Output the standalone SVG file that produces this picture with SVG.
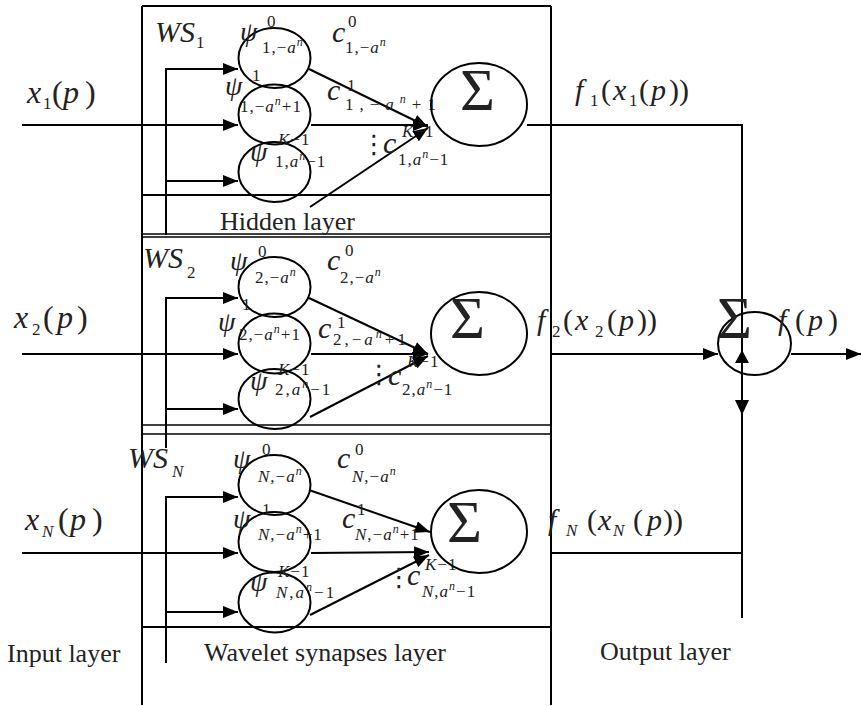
<svg xmlns="http://www.w3.org/2000/svg" width="861" height="706" viewBox="0 0 861 706">
<defs>
<style>
.ln{stroke:#000;stroke-width:2;fill:none}
.ln2{stroke:#000;stroke-width:1.5;fill:none}
.ar{stroke:#000;stroke-width:2;fill:none;marker-end:url(#ah)}
.nd{stroke:#000;stroke-width:2;fill:none}
.hd{fill:#000;stroke:none}
text{font-family:"Liberation Serif","Times New Roman",serif;fill:#222}
.m{font-style:italic;font-size:30px}
.p{font-style:italic;font-size:28px}
.r{font-size:30px}
.s{font-size:17px;letter-spacing:1px}
.i{font-style:italic}
.n{font-style:italic;font-size:12px}
.sig{font-size:60px}
.lbl{font-size:26px}
.dt{font-family:"DejaVu Sans",sans-serif;font-size:26px}
</style>
<marker id="ah" viewBox="0 0 15 12" refX="15" refY="6" markerWidth="15" markerHeight="12" markerUnits="userSpaceOnUse" orient="auto"><path d="M0,0L15,6L0,12z" fill="#000"/></marker>
</defs>
<rect width="861" height="706" fill="#fff"/>

<g id="frames">
<line class="ln" x1="142" y1="6" x2="142" y2="705"/>
<line class="ln" x1="551" y1="6" x2="551" y2="705"/>
<line class="ln" x1="142" y1="6" x2="551" y2="6"/>
<line class="ln" x1="142" y1="195" x2="551" y2="195"/>
<line class="ln2" x1="142" y1="234" x2="551" y2="234"/>
<line class="ln2" x1="142" y1="237" x2="551" y2="237"/>
<line class="ln2" x1="142" y1="425" x2="551" y2="425"/>
<line class="ln2" x1="142" y1="434" x2="551" y2="434"/>
<line class="ln" x1="142" y1="627" x2="551" y2="627"/>
</g>

<g id="connectors">
<!-- block 1 -->
<line class="ln" x1="166" y1="68" x2="166" y2="235"/>
<line class="ar" x1="165" y1="69" x2="238" y2="69"/>
<line class="ar" x1="22" y1="125" x2="238" y2="125"/>
<line class="ar" x1="165" y1="181" x2="238" y2="181"/>
<line class="ar" x1="309" y1="69" x2="428" y2="127"/>
<line class="ar" x1="311" y1="125" x2="428" y2="125"/>
<line class="ar" x1="310" y1="207" x2="428" y2="128"/>
<!-- block 2 -->
<line class="ln" x1="166" y1="297" x2="166" y2="448"/>
<line class="ar" x1="165" y1="298" x2="238" y2="298"/>
<line class="ar" x1="22" y1="354" x2="238" y2="354"/>
<line class="ar" x1="165" y1="409" x2="238" y2="409"/>
<line class="ar" x1="309" y1="298" x2="428" y2="354"/>
<line class="ar" x1="311" y1="354" x2="428" y2="354"/>
<line class="ar" x1="310" y1="417" x2="428" y2="356"/>
<!-- block N -->
<line class="ln" x1="166" y1="496" x2="166" y2="663"/>
<line class="ar" x1="165" y1="497" x2="238" y2="497"/>
<line class="ar" x1="22" y1="553" x2="238" y2="553"/>
<line class="ar" x1="165" y1="612" x2="238" y2="612"/>
<line class="ar" x1="309" y1="490" x2="430" y2="532"/>
<line class="ar" x1="311" y1="553" x2="429" y2="552"/>
<line class="ar" x1="310" y1="615" x2="429" y2="555"/>
<!-- output layer -->
<line class="ln" x1="527" y1="125" x2="743" y2="125"/>
<line class="ln" x1="742" y1="124" x2="742" y2="618"/>
<line class="ln" x1="551" y1="553" x2="743" y2="553"/>
<line class="ar" x1="551" y1="354" x2="718" y2="354"/>
<line class="ar" x1="791" y1="354" x2="861" y2="354"/>
<polygon class="hd" points="742,350 735,363 749,363"/>
<polygon class="hd" points="742,415 735,400 749,400"/>
</g>

<g id="inputs">
<text class="m" style="font-size:32px" x="27" y="103">x</text><text class="s" x="43" y="109">1</text><text class="r" style="font-size:32px" x="52" y="103">(</text><text class="m" style="font-size:32px" x="63" y="103">p</text><text class="r" style="font-size:32px" x="85" y="103">)</text>
<text class="m" style="font-size:32px" x="14" y="328">x</text><text class="s" x="32" y="335">2</text><text class="r" style="font-size:32px" x="43" y="328">(</text><text class="m" style="font-size:32px" x="57" y="328">p</text><text class="r" style="font-size:32px" x="77" y="328">)</text>
<text class="m" style="font-size:32px" x="25" y="530">x</text><text class="s i" x="42" y="537">N</text><text class="r" style="font-size:32px" x="58" y="530">(</text><text class="m" style="font-size:32px" x="70" y="530">p</text><text class="r" style="font-size:32px" x="92" y="530">)</text>
</g>

<!-- Block 1 -->
<g id="ws1">
<text class="m" x="155" y="42">WS</text><text class="s" x="196" y="48">1</text>
</g>
<g id="psi-1-0">
<ellipse class="nd" cx="274.5" cy="58" rx="36" ry="30"/>
<text class="p" x="240" y="41">ψ</text><text class="s" x="267" y="27">0</text>
<text class="s" x="262" y="53">1,−<tspan class="i">a</tspan><tspan class="n" dy="-7">n</tspan></text>
</g>
<g id="psi-1-1">
<ellipse class="nd" cx="274.5" cy="114.5" rx="36" ry="30"/>
<text class="p" x="225" y="95">ψ</text><text class="s" x="252" y="81">1</text>
<text class="s" x="240" y="112">1,−<tspan class="i">a</tspan><tspan class="n" dy="-7">n</tspan><tspan dy="7">+1</tspan></text>
</g>
<g id="psi-1-K">
<ellipse class="nd" cx="274.5" cy="172" rx="36" ry="30"/>
<text class="p" x="250" y="161">ψ</text><text class="s" x="278" y="145"><tspan class="i">K</tspan>−1</text>
<text class="s" x="275" y="167">1,<tspan class="i">a</tspan><tspan class="n" dy="-7">n</tspan><tspan dy="7">−1</tspan></text>
</g>
<g id="weights-1">
<text class="m" x="332" y="42">c</text><text class="s" x="348" y="27">0</text>
<text class="s" x="345" y="53">1,−<tspan class="i">a</tspan><tspan class="n" dy="-7">n</tspan></text>
<text class="m" x="327" y="100">c</text><text class="s" x="347" y="91">1</text>
<text class="s" style="letter-spacing:6px" x="345" y="110">1,−<tspan class="i">a</tspan><tspan class="n" dy="-7">n</tspan><tspan dy="7">+1</tspan></text>
<text class="dt" x="361" y="153">⋮</text>
<text class="m" x="383" y="153">c</text><text class="s" x="402" y="137"><tspan class="i">K</tspan>−1</text>
<text class="s" x="398" y="165">1,<tspan class="i">a</tspan><tspan class="n" dy="-7">n</tspan><tspan dy="7">−1</tspan></text>
</g>
<g id="sum-1">
<ellipse class="nd" cx="479" cy="104.5" rx="48" ry="41.5"/>
<text class="sig" x="460" y="110">Σ</text>
</g>
<text class="lbl" x="220" y="230">Hidden layer</text>

<!-- Block 2 -->
<g id="ws2">
<text class="m" x="143" y="268">WS</text><text class="s" x="187" y="278">2</text>
</g>
<g id="psi-2-0">
<ellipse class="nd" cx="274.5" cy="287" rx="36" ry="30"/>
<text class="p" x="230" y="270">ψ</text><text class="s" x="258" y="257">0</text>
<text class="s" x="255" y="283">2,−<tspan class="i">a</tspan><tspan class="n" dy="-7">n</tspan></text>
</g>
<g id="psi-2-1">
<ellipse class="nd" cx="274.5" cy="343.5" rx="36" ry="30"/>
<text class="p" x="218" y="331">ψ</text><text class="s" x="242" y="310">1</text>
<text class="s" x="239" y="340">2,−<tspan class="i">a</tspan><tspan class="n" dy="-7">n</tspan><tspan dy="7">+1</tspan></text>
</g>
<g id="psi-2-K">
<ellipse class="nd" cx="274.5" cy="399" rx="36" ry="30"/>
<text class="p" x="250" y="390">ψ</text><text class="s" x="278" y="375"><tspan class="i">K</tspan>−1</text>
<text class="s" style="letter-spacing:2px" x="275" y="395">2,<tspan class="i">a</tspan><tspan class="n" dy="-7">n</tspan><tspan dy="7">−1</tspan></text>
</g>
<g id="weights-2">
<text class="m" x="327" y="270">c</text><text class="s" x="345" y="256">0</text>
<text class="s" x="340" y="283">2,−<tspan class="i">a</tspan><tspan class="n" dy="-7">n</tspan></text>
<text class="m" x="318" y="338">c</text><text class="s" x="337" y="328">1</text>
<text class="s" style="letter-spacing:3px" x="333" y="345">2,−<tspan class="i">a</tspan><tspan class="n" dy="-7">n</tspan><tspan dy="7">+1</tspan></text>
<text class="dt" x="366" y="383">⋮</text>
<text class="m" x="388" y="385">c</text><text class="s" x="407" y="367"><tspan class="i">K</tspan>−1</text>
<text class="s" x="402" y="395">2,<tspan class="i">a</tspan><tspan class="n" dy="-7">n</tspan><tspan dy="7">−1</tspan></text>
</g>
<g id="sum-2">
<ellipse class="nd" cx="479" cy="333.5" rx="48" ry="41.5"/>
<text class="sig" x="450" y="338">Σ</text>
</g>

<!-- Block N -->
<g id="wsN">
<text class="m" x="128" y="468">WS</text><text class="s i" x="172" y="477">N</text>
</g>
<g id="psi-N-0">
<ellipse class="nd" cx="274.5" cy="485" rx="36" ry="30"/>
<text class="p" x="233" y="468">ψ</text><text class="s" x="262" y="455">0</text>
<text class="s" x="258" y="482"><tspan class="i">N</tspan>,−<tspan class="i">a</tspan><tspan class="n" dy="-7">n</tspan></text>
</g>
<g id="psi-N-1">
<ellipse class="nd" cx="274.5" cy="542" rx="36" ry="30"/>
<text class="p" x="233" y="528">ψ</text><text class="s" x="262" y="515">1</text>
<text class="s" x="258" y="540"><tspan class="i">N</tspan>,−<tspan class="i">a</tspan><tspan class="n" dy="-7">n</tspan><tspan dy="7">+1</tspan></text>
</g>
<g id="psi-N-K">
<ellipse class="nd" cx="274.5" cy="602.5" rx="36" ry="30"/>
<text class="p" x="250" y="591">ψ</text><text class="s" x="278" y="577"><tspan class="i">K</tspan>−1</text>
<text class="s" style="letter-spacing:2px" x="276" y="598"><tspan class="i">N</tspan>,<tspan class="i">a</tspan><tspan class="n" dy="-7">n</tspan><tspan dy="7">−1</tspan></text>
</g>
<g id="weights-N">
<text class="m" x="337" y="468">c</text><text class="s" x="355" y="455">0</text>
<text class="s" x="352" y="482"><tspan class="i">N</tspan>,−<tspan class="i">a</tspan><tspan class="n" dy="-7">n</tspan></text>
<text class="m" x="342" y="528">c</text><text class="s" x="357" y="515">1</text>
<text class="s" x="355" y="540"><tspan class="i">N</tspan>,−<tspan class="i">a</tspan><tspan class="n" dy="-7">n</tspan><tspan dy="7">+1</tspan></text>
<text class="dt" x="386" y="586">⋮</text>
<text class="m" x="407" y="585">c</text><text class="s" x="425" y="570"><tspan class="i">K</tspan>−1</text>
<text class="s" x="422" y="597"><tspan class="i">N</tspan>,<tspan class="i">a</tspan><tspan class="n" dy="-7">n</tspan><tspan dy="7">−1</tspan></text>
</g>
<g id="sum-N">
<ellipse class="nd" cx="479" cy="531.5" rx="48" ry="41.5"/>
<text class="sig" x="447" y="542">Σ</text>
</g>

<!-- Output layer -->
<g id="outputs">
<text class="m" x="575" y="100">f</text><text class="s" x="590" y="106">1</text><text class="r" x="601" y="100">(</text><text class="m" x="613" y="100">x</text><text class="s" x="629" y="106">1</text><text class="r" x="639" y="100">(</text><text class="m" x="651" y="100">p</text><text class="r" x="669" y="100">))</text>
<text class="m" x="537" y="330">f</text><text class="s" x="552" y="337">2</text><text class="r" x="563" y="330">(</text><text class="m" x="575" y="330">x</text><text class="s" x="595" y="337">2</text><text class="r" x="607" y="330">(</text><text class="m" x="619" y="330">p</text><text class="r" x="637" y="330">))</text>
<text class="m" x="548" y="530">f</text><text class="s i" x="566" y="536">N</text><text class="r" x="587" y="530">(</text><text class="m" x="598" y="530">x</text><text class="s i" x="613" y="536">N</text><text class="r" x="633" y="530">(</text><text class="m" x="647" y="530">p</text><text class="r" x="663" y="530">))</text>
</g>
<g id="sum-out">
<ellipse class="nd" cx="754.5" cy="343.5" rx="36.5" ry="31.5"/>
<text class="sig" x="717" y="338">Σ</text>
</g>
<text class="m" x="778" y="330">f</text><text class="r" x="795" y="330">(</text><text class="m" x="808" y="330">p</text><text class="r" x="828" y="330">)</text>

<g id="layer-labels">
<text class="lbl" x="7" y="662">Input layer</text>
<text class="lbl" x="204" y="661">Wavelet synapses layer</text>
<text class="lbl" x="600" y="660">Output layer</text>
</g>
</svg>
